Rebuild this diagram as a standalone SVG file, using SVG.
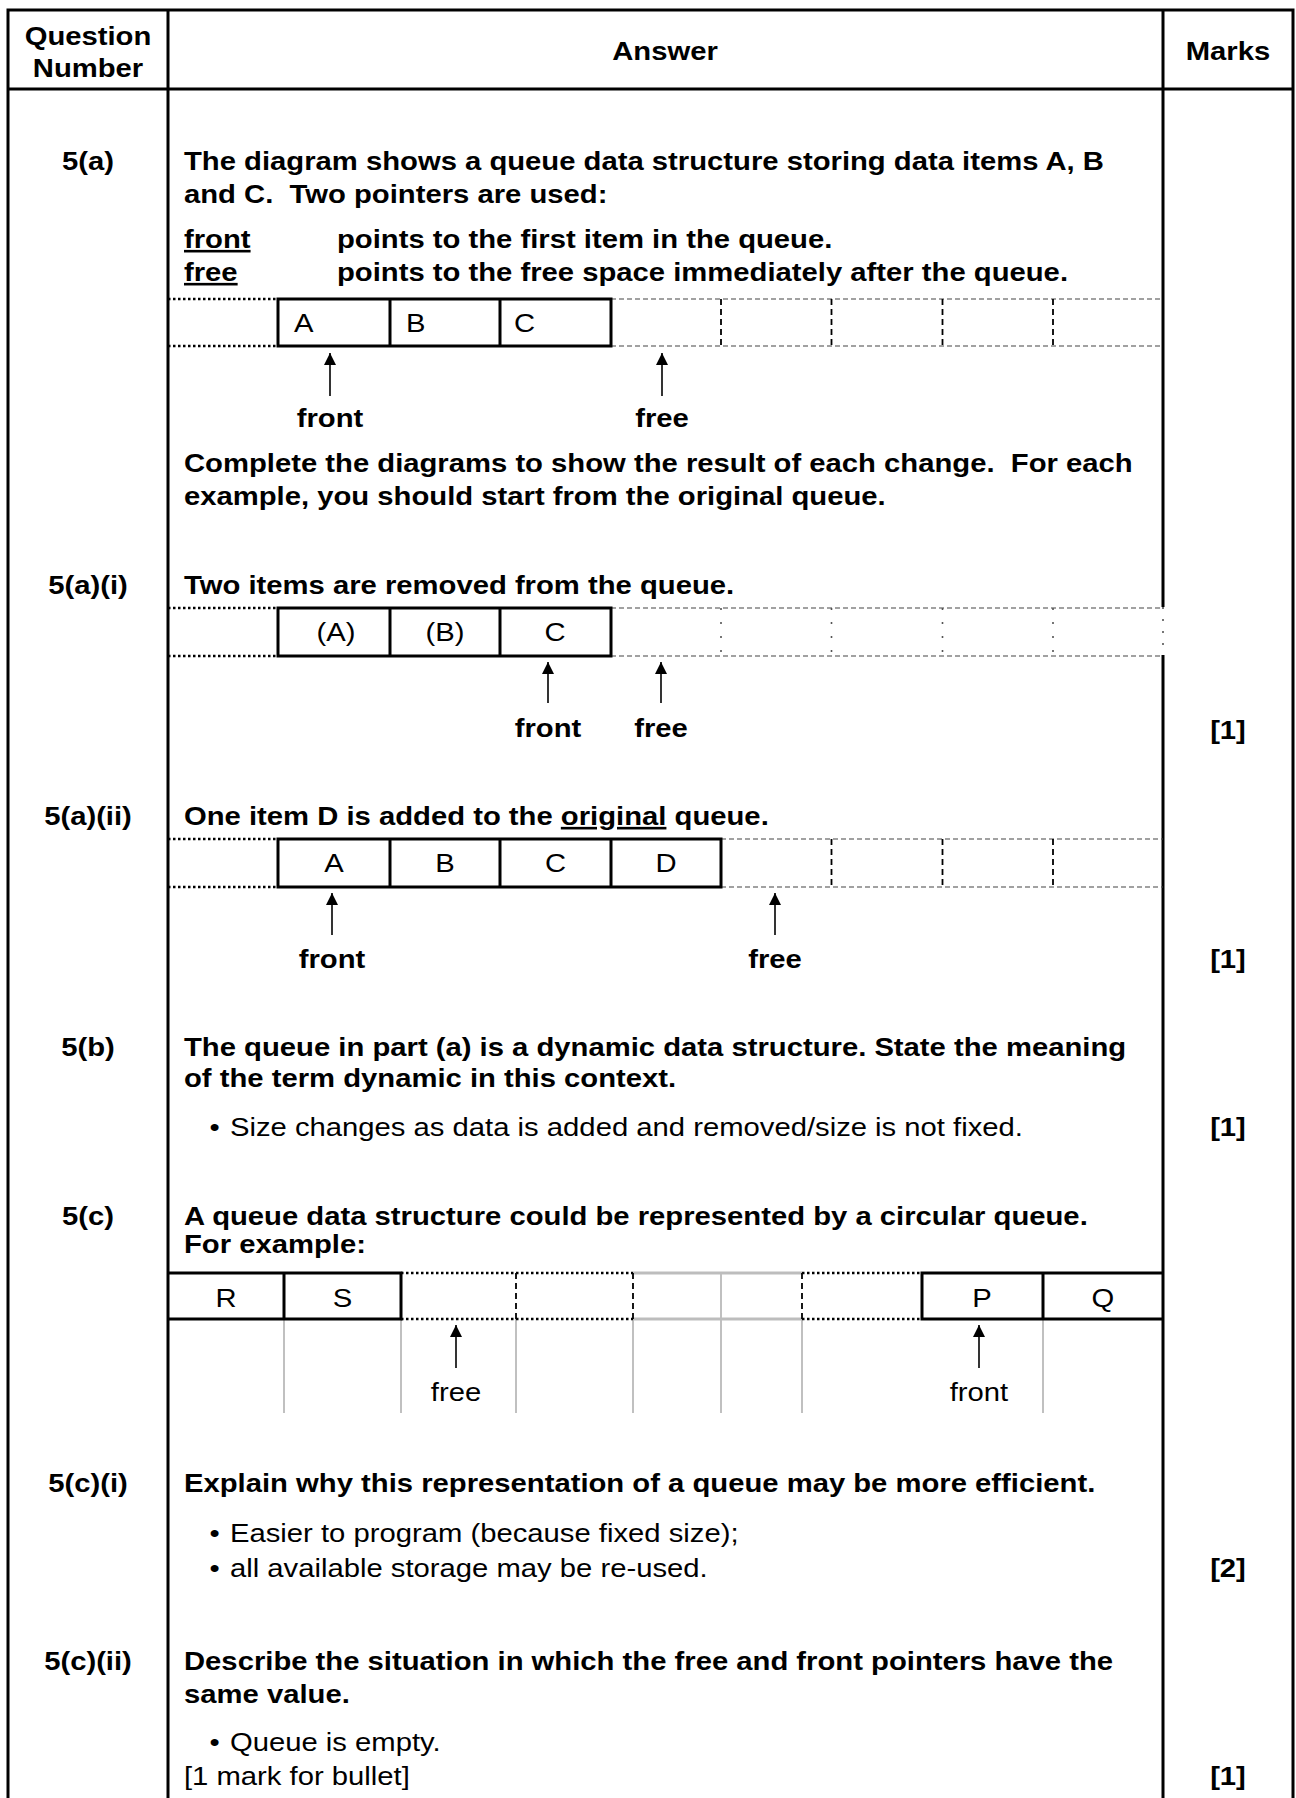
<svg xmlns="http://www.w3.org/2000/svg" width="1296" height="1798" viewBox="0 0 1296 1798">
  <style>
    text { font-family: "Liberation Sans", Arial, sans-serif; font-size: 26px; fill: #000; }
    .b { font-weight: bold; }
    .m { text-anchor: middle; }
    .grid { stroke: #000; stroke-width: 3; fill: none; }
    .cell { stroke: #000; stroke-width: 3; fill: none; }
    .stub { stroke: #000; stroke-width: 2.5; stroke-dasharray: 2.5 2.5; fill: none; }
    .dash { stroke: #444; stroke-width: 1.2; stroke-dasharray: 5 3; fill: none; }
    .vdash { stroke: #000; stroke-width: 1.8; stroke-dasharray: 6 4; fill: none; }
    .vdot { stroke: #555; stroke-width: 1.6; stroke-dasharray: 2 12; fill: none; }
    .grey { stroke: #c0c0c0; stroke-width: 2; fill: none; }
    .greyb { stroke: #bdbdbd; stroke-width: 3; fill: none; }
    .ptr { stroke: #000; stroke-width: 1.6; marker-end: url(#head); }
  </style>
  <defs>
    <marker id="head" viewBox="0 0 10 10" refX="10" refY="5" markerUnits="userSpaceOnUse" markerWidth="20" markerHeight="12" orient="auto">
      <path d="M0,0 L10,5 L0,10 z" fill="#000"/>
    </marker>
  </defs>
  <rect width="1296" height="1798" fill="#fff"/>

  <!-- table frame -->
  <g id="table">
    <path class="grid" d="M8,1800 V10 H1293 V1800"/>
    <path class="grid" d="M8,89 H1293"/>
    <path class="grid" d="M168,10 V1800"/>
    <path class="grid" d="M1163,10 V607 M1163,655 V1800"/>
    <path class="vdot" d="M1163,607 V655" style="stroke-dasharray:2 10"/>
    <g transform="scale(1.125 1)">
      <text class="b m" x="78.22" y="45">Question</text>
      <text class="b m" x="78.22" y="77">Number</text>
      <text class="b m" x="591.11" y="60">Answer</text>
      <text class="b m" x="1091.56" y="60">Marks</text>
    </g>
  </g>

  <!-- 5(a): original queue -->
  <g id="q5a">
    <g transform="scale(1.125 1)">
      <text class="b m" x="78.22" y="170">5(a)</text>
      <text class="b" x="163.56" y="170">The diagram shows a queue data structure storing data items A, B</text>
      <text class="b" x="163.56" y="203">and C.&#160; Two pointers are used:</text>
      <text class="b" x="163.56" y="248"><tspan text-decoration="underline">front</tspan></text>
      <text class="b" x="299.56" y="248">points to the first item in the queue.</text>
      <text class="b" x="163.56" y="281"><tspan text-decoration="underline">free</tspan></text>
      <text class="b" x="299.56" y="281">points to the free space immediately after the queue.</text>
      <text x="261.33" y="332">A</text>
      <text x="360.89" y="332">B</text>
      <text x="456.89" y="332">C</text>
      <text class="b m" x="293.33" y="427">front</text>
      <text class="b m" x="588.44" y="427">free</text>
      <text class="b" x="163.56" y="472">Complete the diagrams to show the result of each change.&#160; For each</text>
      <text class="b" x="163.56" y="505">example, you should start from the original queue.</text>
    </g>
    <path class="stub" d="M168,299 H278 M168,346 H278"/>
    <path class="dash" d="M611,299 H1163 M611,346 H1163"/>
    <path class="vdash" d="M721,299 V346 M831.5,299 V346 M942.5,299 V346 M1053,299 V346"/>
    <path class="cell" d="M278,299 H611 V346 H278 Z M390,299 V346 M500,299 V346"/>
  </g>

  <!-- 5(a)(i): two items removed -->
  <g id="q5ai">
    <g transform="scale(1.125 1)">
      <text class="b m" x="78.22" y="594">5(a)(i)</text>
      <text class="b" x="163.56" y="594">Two items are removed from the queue.</text>
      <text class="m" x="298.67" y="641">(A)</text>
      <text class="m" x="395.56" y="641">(B)</text>
      <text class="m" x="493.33" y="641">C</text>
      <text class="b m" x="487.11" y="737">front</text>
      <text class="b m" x="587.56" y="737">free</text>
      <text class="b m" x="1091.56" y="739">[1]</text>
    </g>
    <path class="stub" d="M168,608 H278 M168,656 H278"/>
    <path class="dash" d="M611,608 H1163 M611,656 H1163"/>
    <path class="vdot" d="M721,608 V656 M831.5,608 V656 M942.5,608 V656 M1053,608 V656"/>
    <path class="cell" d="M278,608 H611 V656 H278 Z M390,608 V656 M500,608 V656"/>
  </g>

  <!-- 5(a)(ii): one item added -->
  <g id="q5aii">
    <g transform="scale(1.125 1)">
      <text class="b m" x="78.22" y="825">5(a)(ii)</text>
      <text class="b" x="163.56" y="825">One item D is added to the <tspan text-decoration="underline">original</tspan> queue.</text>
      <text class="m" x="296.89" y="872">A</text>
      <text class="m" x="395.56" y="872">B</text>
      <text class="m" x="493.78" y="872">C</text>
      <text class="m" x="592" y="872">D</text>
      <text class="b m" x="295.11" y="968">front</text>
      <text class="b m" x="688.89" y="968">free</text>
      <text class="b m" x="1091.56" y="968">[1]</text>
    </g>
    <path class="stub" d="M168,839 H278 M168,887 H278"/>
    <path class="dash" d="M721,839 H1163 M721,887 H1163"/>
    <path class="vdash" d="M831.5,839 V887 M942.5,839 V887 M1053,839 V887"/>
    <path class="cell" d="M278,839 H721 V887 H278 Z M390,839 V887 M500,839 V887 M611,839 V887"/>
  </g>

  <!-- 5(b) -->
  <g id="q5b">
    <g transform="scale(1.125 1)">
      <text class="b m" x="78.22" y="1056">5(b)</text>
      <text class="b" x="163.56" y="1056">The queue in part (a) is a dynamic data structure. State the meaning</text>
      <text class="b" x="163.56" y="1087">of the term dynamic in this context.</text>
      <text x="186.2" y="1136">•</text>
      <text x="204.44" y="1136">Size changes as data is added and removed/size is not fixed.</text>
      <text class="b m" x="1091.56" y="1136">[1]</text>
    </g>
  </g>

  <!-- 5(c): circular queue -->
  <g id="q5c">
    <g transform="scale(1.125 1)">
      <text class="b m" x="78.22" y="1225">5(c)</text>
      <text class="b" x="163.56" y="1225">A queue data structure could be represented by a circular queue.</text>
      <text class="b" x="163.56" y="1253">For example:</text>
      <text class="m" x="200.89" y="1307">R</text>
      <text class="m" x="304.44" y="1307">S</text>
      <text class="m" x="872.89" y="1307">P</text>
      <text class="m" x="980.44" y="1307">Q</text>
      <text class="m" x="405.33" y="1401">free</text>
      <text class="m" x="870.22" y="1401">front</text>
    </g>
    <path class="grey" d="M284,1319 V1413 M401,1319 V1413 M516,1319 V1413 M633,1319 V1413 M721,1273 V1413 M802,1319 V1413 M1043,1319 V1413"/>
    <path class="greyb" d="M633,1273 H802 M633,1319 H802"/>
    <path class="stub" d="M401,1273 H633 M401,1319 H633 M802,1273 H922 M802,1319 H922"/>
    <path class="vdash" d="M516,1273 V1319 M633,1273 V1319 M802,1273 V1319"/>
    <path class="cell" d="M168,1273 H401 V1319 H168 M284,1273 V1319 M1163,1273 H922 V1319 H1163 M1043,1273 V1319"/>
  </g>

  <!-- 5(c)(i) -->
  <g id="q5ci">
    <g transform="scale(1.125 1)">
      <text class="b m" x="78.22" y="1492">5(c)(i)</text>
      <text class="b" x="163.56" y="1492">Explain why this representation of a queue may be more efficient.</text>
      <text x="186.2" y="1542">•</text>
      <text x="204.44" y="1542">Easier to program (because fixed size);</text>
      <text x="186.2" y="1577">•</text>
      <text x="204.44" y="1577">all available storage may be re-used.</text>
      <text class="b m" x="1091.56" y="1577">[2]</text>
    </g>
  </g>

  <!-- 5(c)(ii) -->
  <g id="q5cii">
    <g transform="scale(1.125 1)">
      <text class="b m" x="78.22" y="1670">5(c)(ii)</text>
      <text class="b" x="163.56" y="1670">Describe the situation in which the free and front pointers have the</text>
      <text class="b" x="163.56" y="1703">same value.</text>
      <text x="186.2" y="1751">•</text>
      <text x="204.44" y="1751">Queue is empty.</text>
      <text x="163.56" y="1785">[1 mark for bullet]</text>
      <text class="b m" x="1091.56" y="1785">[1]</text>
    </g>
  </g>

  <!-- pointer arrows -->
  <g id="pointers">
    <line class="ptr" x1="330" y1="396" x2="330" y2="353"/>
    <line class="ptr" x1="662" y1="396" x2="662" y2="353"/>
    <line class="ptr" x1="548" y1="703" x2="548" y2="662"/>
    <line class="ptr" x1="661" y1="703" x2="661" y2="662"/>
    <line class="ptr" x1="332" y1="935" x2="332" y2="893"/>
    <line class="ptr" x1="775" y1="935" x2="775" y2="893"/>
    <line class="ptr" x1="456" y1="1368" x2="456" y2="1325"/>
    <line class="ptr" x1="979" y1="1368" x2="979" y2="1325"/>
  </g>
</svg>
